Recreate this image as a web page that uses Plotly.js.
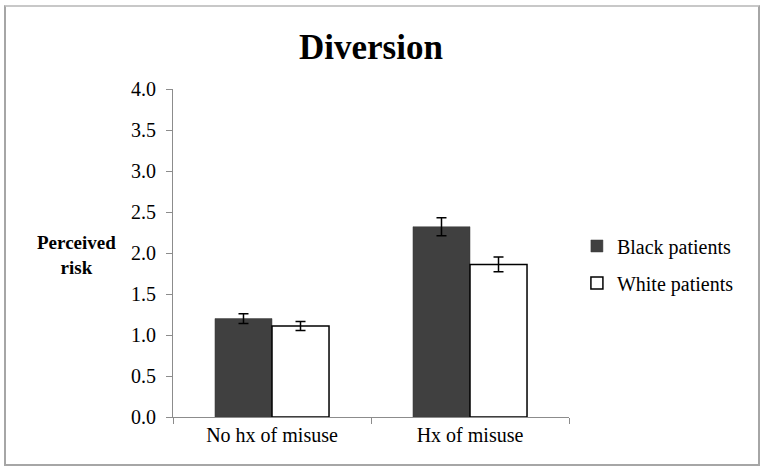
<!DOCTYPE html>
<html>
<head>
<meta charset="utf-8">
<script src="https://cdn.plot.ly/plotly-3.0.1.min.js"></script>
</head>
<body style="margin:0;background:#fff">
<div style="position:relative;width:763px;height:469px">
<div id="chart" style="width:763px;height:469px"></div>
<div style="position:absolute;left:4px;top:5px;width:752px;height:457px;border:2px solid #a6a6a6;border-top-color:#c8c8c8;pointer-events:none"></div>
</div>
<script>
const categories = ["No hx of misuse", "Hx of misuse"];
const blackValues = [1.20, 2.32];
const blackErrors = [0.06, 0.11];
const whiteValues = [1.11, 1.86];
const whiteErrors = [0.055, 0.09];
const yTickValues = [0, 0.5, 1, 1.5, 2, 2.5, 3, 3.5, 4];
const yTickLabels = ["0.0", "0.5", "1.0", "1.5", "2.0", "2.5", "3.0", "3.5", "4.0"];

const FAM = "Times New Roman";
function errStyle(arr) { return {type: "data", array: arr, visible: true, color: "#000", thickness: 1.5, width: 5}; }

const traces = [
  {type: "bar", name: "Black patients", x: categories, y: blackValues,
   marker: {color: "#404040", line: {color: "#3a3a3a", width: 0.5}},
   error_y: errStyle(blackErrors), legendgroup: "a"},
  {type: "bar", name: "White patients", x: categories, y: whiteValues,
   marker: {color: "#ffffff", line: {color: "#000", width: 1.5}},
   error_y: errStyle(whiteErrors), legendgroup: "b"}
];

const layout = {
  width: 763, height: 469,
  margin: {l: 173, r: 194, t: 89, b: 52, pad: 0},
  paper_bgcolor: "#fff", plot_bgcolor: "#fff",
  font: {family: FAM, size: 20, color: "#000"},
  title: {text: "<b>Diversion</b>", font: {family: FAM, size: 35, color: "#000"},
          x: 0.5, xanchor: "center", y: 0.9, yanchor: "middle", xref: "paper"},
  barmode: "group", bargap: 0.424, bargroupgap: 0,
  showlegend: true,
  legend: {x: 1.02, xanchor: "left", y: 0.465, yanchor: "middle",
           font: {family: FAM, size: 20, color: "#000"},
           traceorder: "grouped", tracegroupgap: 8, bgcolor: "rgba(0,0,0,0)"},
  xaxis: {type: "category", showline: true, linecolor: "#8c8c8c", linewidth: 1,
          ticks: "outside", tickson: "boundaries", ticklen: 6, tickcolor: "#8c8c8c",
          tickfont: {family: FAM, size: 20, color: "#000"}, showgrid: false, zeroline: false},
  yaxis: {range: [0, 4], tickvals: yTickValues, ticktext: yTickLabels,
          showline: true, linecolor: "#8c8c8c", linewidth: 1,
          ticks: "outside", ticklen: 6, tickcolor: "#8c8c8c",
          tickfont: {family: FAM, size: 20, color: "#000"},
          showgrid: false, zeroline: false, ticklabelstandoff: 6},
  annotations: [{text: "<b>Perceived<br>risk</b>", xref: "paper", yref: "paper",
                 x: -0.243, y: 0.495, xanchor: "center", yanchor: "middle", showarrow: false,
                 font: {family: FAM, size: 19, color: "#000"}, align: "center"}]
};

Plotly.newPlot("chart", traces, layout, {displayModeBar: false, staticPlot: true});
</script>
</body>
</html>
